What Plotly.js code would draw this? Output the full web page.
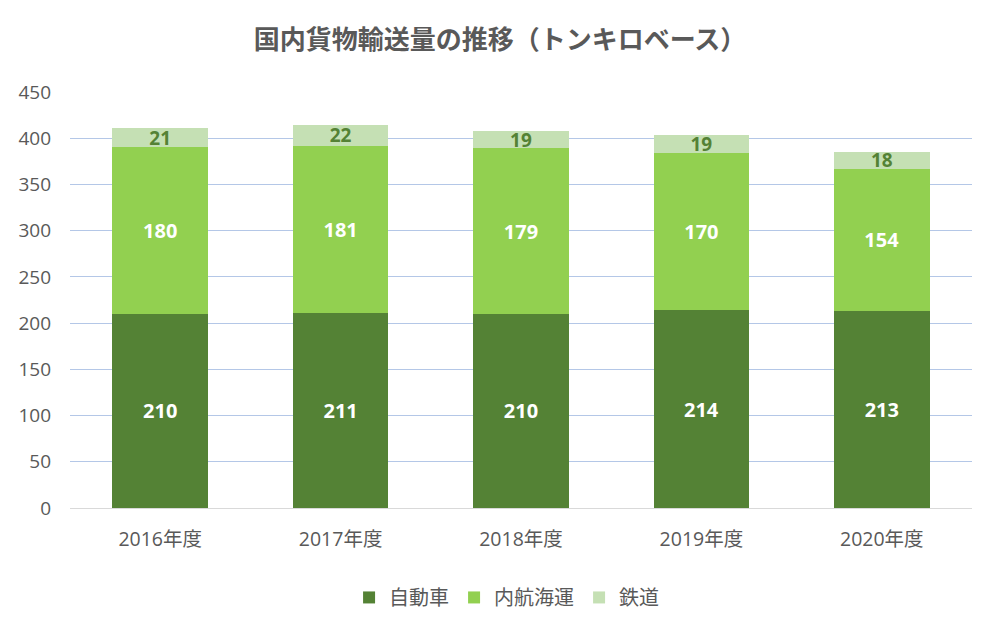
<!DOCTYPE html>
<html>
<head>
<meta charset="utf-8">
<script src="https://cdn.plot.ly/plotly-3.0.1.min.js"></script>
<style>
    html, body { margin: 0; padding: 0; background: #fff; }
    #chart { width: 1000px; height: 632px; }
</style>
</head>
<body>
<div id="chart"></div>
<script>
const years = ['2016年度', '2017年度', '2018年度', '2019年度', '2020年度'];
const truck = [210, 211, 210, 214, 213];
const coastal = [180, 181, 179, 170, 154];
const rail = [21, 22, 19, 19, 18];

const FONT = '"Open Sans", "Noto Sans CJK JP", sans-serif';

function series(name, values, color, labelColor, size) {
    return {
        x: years,
        y: values,
        type: 'bar',
        name: name,
        marker: { color: color },
        text: values.map(String),
        textposition: 'inside',
        insidetextanchor: 'middle',
        textangle: 0,
        constraintext: 'none',
        textfont: { family: FONT, size: size, color: labelColor, weight: 'bold' },
        hoverinfo: 'x+y+name'
    };
}

const traces = [
    series('自動車', truck, '#548235', '#ffffff', 20),
    series('内航海運', coastal, '#92D050', '#ffffff', 20),
    series('鉄道', rail, '#C5E0B4', '#548235', 19)
];

const layout = {
    width: 1000,
    height: 632,
    barmode: 'stack',
    bargap: 0.47,
    paper_bgcolor: '#ffffff',
    plot_bgcolor: '#ffffff',
    font: { family: FONT, color: '#595959' },
    margin: { l: 70, r: 28, t: 92, b: 124 },
    title: {
        text: '国内貨物輸送量の推移（トンキロベース）',
        font: { family: FONT, size: 26, color: '#595959', weight: 'bold' },
        x: 0.5,
        xanchor: 'center',
        y: 0.937,
        yanchor: 'middle'
    },
    xaxis: {
        tickfont: { size: 19.5, color: '#595959' },
        showline: true,
        linecolor: '#D9D9D9',
        linewidth: 1,
        ticks: '',
        ticklabelstandoff: 14
    },
    yaxis: {
        range: [0, 450],
        dtick: 50,
        tickfont: { size: 19, color: '#595959' },
        gridcolor: '#B4C7E7',
        gridwidth: 1,
        zeroline: false,
        ticks: '',
        ticklabelstandoff: 18
    },
    legend: {
        orientation: 'h',
        x: 0.484,
        xanchor: 'center',
        y: -0.215,
        yanchor: 'middle',
        traceorder: 'normal',
        font: { size: 20, color: '#595959' },
        itemwidth: 30
    },
    showlegend: true
};

Plotly.newPlot('chart', traces, layout, { displayModeBar: false });
</script>
</body>
</html>
